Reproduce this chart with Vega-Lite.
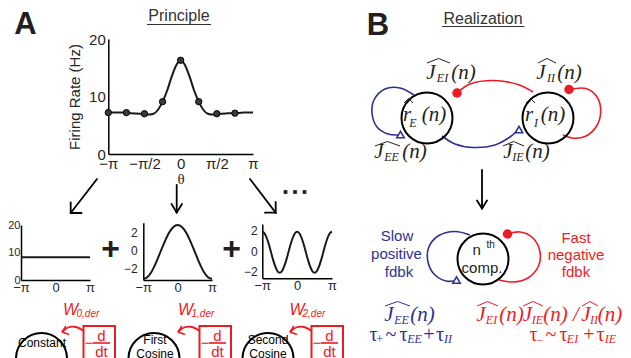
{
  "$schema": "https://vega.github.io/schema/vega-lite/v6.json",
  "width": 631,
  "height": 358,
  "autosize": {"type": "none"},
  "padding": 0,
  "background": "white",
  "config": {
    "view": {"stroke": null},
    "axis": {"grid": false, "ticks": false, "domainColor": "#000", "domainWidth": 1.5, "labelColor": "#262626", "labelFont": "Liberation Sans", "titleFont": "Liberation Sans", "titleFontWeight": "normal", "titleColor": "#262626", "labelFlush": false, "labelOverlap": false}
  },
  "datasets": {
    "curve": [
      {"theta": -3.1416, "rate": 7.2}, {"theta": -2.9452, "rate": 7.2}, {"theta": -2.7489, "rate": 7.2}, {"theta": -2.5525, "rate": 7.2},
      {"theta": -2.3562, "rate": 7.15}, {"theta": -2.1598, "rate": 7.1}, {"theta": -1.9635, "rate": 7.05}, {"theta": -1.7671, "rate": 7.0},
      {"theta": -1.5708, "rate": 6.95}, {"theta": -1.3744, "rate": 6.85}, {"theta": -1.1781, "rate": 7.0}, {"theta": -0.9817, "rate": 7.7},
      {"theta": -0.7854, "rate": 9.1}, {"theta": -0.589, "rate": 11.0}, {"theta": -0.3927, "rate": 13.4}, {"theta": -0.1963, "rate": 15.4},
      {"theta": 0, "rate": 16.3},
      {"theta": 0.1963, "rate": 15.4}, {"theta": 0.3927, "rate": 13.4}, {"theta": 0.589, "rate": 11.0}, {"theta": 0.7854, "rate": 9.1},
      {"theta": 0.9817, "rate": 7.7}, {"theta": 1.1781, "rate": 7.0}, {"theta": 1.3744, "rate": 6.85}, {"theta": 1.5708, "rate": 6.95},
      {"theta": 1.7671, "rate": 7.0}, {"theta": 1.9635, "rate": 7.05}, {"theta": 2.1598, "rate": 7.1}, {"theta": 2.3562, "rate": 7.12},
      {"theta": 2.5525, "rate": 7.15}, {"theta": 2.7489, "rate": 7.2}, {"theta": 2.9452, "rate": 7.2}, {"theta": 3.1416, "rate": 7.2}
    ],
    "samples": [
      {"theta": -3.1416, "rate": 7.2}, {"theta": -2.3562, "rate": 7.2}, {"theta": -1.5708, "rate": 7.0}, {"theta": -0.7854, "rate": 9.1},
      {"theta": 0, "rate": 16.3}, {"theta": 0.7854, "rate": 9.1}, {"theta": 1.5708, "rate": 7.0}, {"theta": 2.3562, "rate": 7.1}
    ],
    "constant": [{"theta": -3.1416, "v": 8.3}, {"theta": 3.1416, "v": 8.3}],
    "cos1": [
      {"theta": -3.1416, "v": -3.19}, {"theta": -2.7489, "v": -2.96}, {"theta": -2.3562, "v": -2.31}, {"theta": -1.9635, "v": -1.33},
      {"theta": -1.5708, "v": -0.17}, {"theta": -1.1781, "v": 0.99}, {"theta": -0.7854, "v": 1.97}, {"theta": -0.3927, "v": 2.62},
      {"theta": 0, "v": 2.85}, {"theta": 0.3927, "v": 2.62}, {"theta": 0.7854, "v": 1.97}, {"theta": 1.1781, "v": 0.99},
      {"theta": 1.5708, "v": -0.17}, {"theta": 1.9635, "v": -1.33}, {"theta": 2.3562, "v": -2.31}, {"theta": 2.7489, "v": -2.96},
      {"theta": 3.1416, "v": -3.19}
    ],
    "cos2": [
      {"theta": -3.1416, "v": 1.92}, {"theta": -2.9452, "v": 1.77}, {"theta": -2.7489, "v": 1.33}, {"theta": -2.5525, "v": 0.69},
      {"theta": -2.3562, "v": -0.08}, {"theta": -2.1598, "v": -0.85}, {"theta": -1.9635, "v": -1.49}, {"theta": -1.7671, "v": -1.93},
      {"theta": -1.5708, "v": -2.08}, {"theta": -1.3744, "v": -1.93}, {"theta": -1.1781, "v": -1.49}, {"theta": -0.9817, "v": -0.85},
      {"theta": -0.7854, "v": -0.08}, {"theta": -0.589, "v": 0.69}, {"theta": -0.3927, "v": 1.33}, {"theta": -0.1963, "v": 1.77},
      {"theta": 0, "v": 1.92},
      {"theta": 0.1963, "v": 1.77}, {"theta": 0.3927, "v": 1.33}, {"theta": 0.589, "v": 0.69}, {"theta": 0.7854, "v": -0.08},
      {"theta": 0.9817, "v": -0.85}, {"theta": 1.1781, "v": -1.49}, {"theta": 1.3744, "v": -1.93}, {"theta": 1.5708, "v": -2.08},
      {"theta": 1.7671, "v": -1.93}, {"theta": 1.9635, "v": -1.49}, {"theta": 2.1598, "v": -0.85}, {"theta": 2.3562, "v": -0.08},
      {"theta": 2.5525, "v": 0.69}, {"theta": 2.7489, "v": 1.33}, {"theta": 2.9452, "v": 1.77}, {"theta": 3.1416, "v": 1.92}
    ],
    "letters": [{"t": "A", "x": 25.5, "y": 25}, {"t": "B", "x": 378, "y": 25.5}],
    "titles": [{"t": "Principle", "x": 179, "y": 20.5}, {"t": "Realization", "x": 483, "y": 23.5}],
    "underlines": [{"x": 147, "y": 24.5, "x2": 211, "y2": 24.5}, {"x": 442, "y": 26.5, "x2": 524.5, "y2": 26.5}],
    "plus": [{"t": "+", "x": 110.5, "y": 249}, {"t": "+", "x": 231.7, "y": 249}],
    "ellipsis": [{"x": 285.5, "y": 192}, {"x": 295, "y": 192}, {"x": 304.5, "y": 192}],
    "arrows": [
      {"x": 97, "y": 179, "x2": 70.7, "y2": 213}, {"x": 70.7, "y": 213, "x2": 70.7, "y2": 202.5}, {"x": 70.7, "y": 213, "x2": 81.5, "y2": 213},
      {"x": 176.7, "y": 185, "x2": 176.7, "y2": 212.5}, {"x": 176.7, "y": 212.5, "x2": 171.5, "y2": 204}, {"x": 176.7, "y": 212.5, "x2": 182, "y2": 204},
      {"x": 250, "y": 179, "x2": 275.7, "y2": 212.7}, {"x": 275.7, "y": 212.7, "x2": 275.7, "y2": 202}, {"x": 275.7, "y": 212.7, "x2": 265, "y2": 212.7},
      {"x": 482, "y": 170, "x2": 482, "y2": 208.5}, {"x": 482, "y": 208.5, "x2": 477, "y2": 200.5}, {"x": 482, "y": 208.5, "x2": 487, "y2": 200.5}
    ],
    "circles": [
      {"x": 41.5, "y": 358.5}, {"x": 154, "y": 358.5}, {"x": 268, "y": 358.5},
      {"x": 427, "y": 118}, {"x": 548, "y": 118}, {"x": 483, "y": 259}
    ],
    "circleLabels": [
      {"t": "Constant", "x": 42, "y": 343}, {"t": "First", "x": 155, "y": 339.5}, {"t": "Cosine", "x": 155, "y": 353.5},
      {"t": "Second", "x": 268, "y": 340}, {"t": "Cosine", "x": 268, "y": 353.5}
    ],
    "loops": [
      {"id": "EE", "i": 0, "g": "exc", "x": 414, "y": 95}, {"id": "EE", "i": 1, "g": "exc", "x": 400, "y": 88}, {"id": "EE", "i": 2, "g": "exc", "x": 385, "y": 89},
      {"id": "EE", "i": 3, "g": "exc", "x": 374, "y": 100}, {"id": "EE", "i": 4, "g": "exc", "x": 372, "y": 113}, {"id": "EE", "i": 5, "g": "exc", "x": 377, "y": 127},
      {"id": "EE", "i": 6, "g": "exc", "x": 388, "y": 134}, {"id": "EE", "i": 7, "g": "exc", "x": 398, "y": 135},
      {"id": "IE", "i": 0, "g": "exc", "x": 442, "y": 136}, {"id": "IE", "i": 1, "g": "exc", "x": 455, "y": 144}, {"id": "IE", "i": 2, "g": "exc", "x": 473, "y": 147.5},
      {"id": "IE", "i": 3, "g": "exc", "x": 495, "y": 145}, {"id": "IE", "i": 4, "g": "exc", "x": 510, "y": 137}, {"id": "IE", "i": 5, "g": "exc", "x": 516.5, "y": 131.5},
      {"id": "EI", "i": 0, "g": "inh", "x": 533, "y": 92}, {"id": "EI", "i": 1, "g": "inh", "x": 518, "y": 84.5}, {"id": "EI", "i": 2, "g": "inh", "x": 493, "y": 80.5},
      {"id": "EI", "i": 3, "g": "inh", "x": 470, "y": 84}, {"id": "EI", "i": 4, "g": "inh", "x": 457, "y": 93},
      {"id": "II", "i": 0, "g": "inh", "x": 569, "y": 89.5}, {"id": "II", "i": 1, "g": "inh", "x": 586, "y": 88.5}, {"id": "II", "i": 2, "g": "inh", "x": 597, "y": 97},
      {"id": "II", "i": 3, "g": "inh", "x": 600.7, "y": 112}, {"id": "II", "i": 4, "g": "inh", "x": 596, "y": 127}, {"id": "II", "i": 5, "g": "inh", "x": 585, "y": 136.5},
      {"id": "II", "i": 6, "g": "inh", "x": 572, "y": 138}, {"id": "II", "i": 7, "g": "inh", "x": 563, "y": 135},
      {"id": "pos", "i": 0, "g": "exc", "x": 470, "y": 235}, {"id": "pos", "i": 1, "g": "exc", "x": 455, "y": 231.5}, {"id": "pos", "i": 2, "g": "exc", "x": 438, "y": 236},
      {"id": "pos", "i": 3, "g": "exc", "x": 428.5, "y": 248}, {"id": "pos", "i": 4, "g": "exc", "x": 428, "y": 262}, {"id": "pos", "i": 5, "g": "exc", "x": 434, "y": 274},
      {"id": "pos", "i": 6, "g": "exc", "x": 446, "y": 281}, {"id": "pos", "i": 7, "g": "exc", "x": 454, "y": 281},
      {"id": "neg", "i": 0, "g": "inh", "x": 507.5, "y": 234}, {"id": "neg", "i": 1, "g": "inh", "x": 520, "y": 232}, {"id": "neg", "i": 2, "g": "inh", "x": 533, "y": 238},
      {"id": "neg", "i": 3, "g": "inh", "x": 540, "y": 252}, {"id": "neg", "i": 4, "g": "inh", "x": 538.5, "y": 266}, {"id": "neg", "i": 5, "g": "inh", "x": 528, "y": 278},
      {"id": "neg", "i": 6, "g": "inh", "x": 513, "y": 282}, {"id": "neg", "i": 7, "g": "inh", "x": 499, "y": 280}
    ],
    "dotsRed": [{"x": 457, "y": 93}, {"x": 569, "y": 89.5}, {"x": 507.5, "y": 234}],
    "triangles": [{"x": 400.5, "y": 134.5}, {"x": 519, "y": 129.5}, {"x": 456.5, "y": 280}],
    "wcurves": [
      {"id": "w0", "i": 0, "x": 83.5, "y": 331}, {"id": "w0", "i": 1, "x": 76, "y": 327}, {"id": "w0", "i": 2, "x": 68, "y": 327.5}, {"id": "w0", "i": 3, "x": 62, "y": 332},
      {"id": "w1", "i": 0, "x": 199.5, "y": 331}, {"id": "w1", "i": 1, "x": 192, "y": 327}, {"id": "w1", "i": 2, "x": 184, "y": 327.5}, {"id": "w1", "i": 3, "x": 178, "y": 332},
      {"id": "w2", "i": 0, "x": 311.5, "y": 331}, {"id": "w2", "i": 1, "x": 304, "y": 327}, {"id": "w2", "i": 2, "x": 296, "y": 327.5}, {"id": "w2", "i": 3, "x": 290, "y": 332}
    ],
    "redSegs": [
      {"x": 62, "y": 332, "x2": 69, "y2": 334.5}, {"x": 62, "y": 332, "x2": 66, "y2": 326},
      {"x": 178, "y": 332, "x2": 185, "y2": 334.5}, {"x": 178, "y": 332, "x2": 182, "y2": 326},
      {"x": 290, "y": 332, "x2": 297, "y2": 334.5}, {"x": 290, "y": 332, "x2": 294, "y2": 326},
      {"x": 93, "y": 343, "x2": 110, "y2": 343}, {"x": 209, "y": 343, "x2": 226, "y2": 343}, {"x": 321, "y": 343, "x2": 338, "y2": 343}
    ],
    "boxes": [
      {"x": 83.5, "y": 326, "x2": 115, "y2": 372}, {"x": 199.5, "y": 326, "x2": 231, "y2": 372}, {"x": 311.5, "y": 326, "x2": 343, "y2": 372}
    ],
    "boxText": [
      {"t": "−", "x": 89, "y": 342.5}, {"t": "d", "x": 101.5, "y": 335.5}, {"t": "dt", "x": 101.5, "y": 352},
      {"t": "−", "x": 205, "y": 342.5}, {"t": "d", "x": 217.5, "y": 335.5}, {"t": "dt", "x": 217.5, "y": 352},
      {"t": "−", "x": 317, "y": 342.5}, {"t": "d", "x": 329.5, "y": 335.5}, {"t": "dt", "x": 329.5, "y": 352}
    ],
    "wMain": [{"t": "W", "x": 70.5, "y": 310}, {"t": "W", "x": 185.5, "y": 310}, {"t": "W", "x": 297, "y": 310}],
    "wSub": [{"t": "0,der", "x": 76.5, "y": 314}, {"t": "1,der", "x": 191.5, "y": 314}, {"t": "2,der", "x": 302.5, "y": 314}],
    "mathMain": [
      {"t": "J", "g": "k", "x": 431, "y": 73}, {"t": "(n)", "g": "k", "x": 463.5, "y": 73},
      {"t": "J", "g": "k", "x": 541, "y": 73}, {"t": "(n)", "g": "k", "x": 569.5, "y": 73},
      {"t": "J", "g": "k", "x": 379, "y": 152}, {"t": "(n)", "g": "k", "x": 414.5, "y": 152},
      {"t": "J", "g": "k", "x": 508, "y": 152}, {"t": "(n)", "g": "k", "x": 537.5, "y": 152},
      {"t": "r", "g": "k", "x": 407, "y": 115}, {"t": "(n)", "g": "k", "x": 434, "y": 115},
      {"t": "r", "g": "k", "x": 529, "y": 115}, {"t": "(n)", "g": "k", "x": 553, "y": 115},
      {"t": "J", "g": "exc", "x": 389, "y": 315}, {"t": "(n)", "g": "exc", "x": 422.5, "y": 315},
      {"t": "J", "g": "inh", "x": 481, "y": 315}, {"t": "(n)", "g": "inh", "x": 511.5, "y": 315},
      {"t": "J", "g": "inh", "x": 527.5, "y": 315}, {"t": "(n)", "g": "inh", "x": 555.5, "y": 315},
      {"t": "/", "g": "inh", "x": 576, "y": 315},
      {"t": "J", "g": "inh", "x": 586, "y": 315}, {"t": "(n)", "g": "inh", "x": 610, "y": 315}
    ],
    "mathSub": [
      {"t": "EI", "g": "k", "x": 442.5, "y": 78}, {"t": "II", "g": "k", "x": 551, "y": 78},
      {"t": "EE", "g": "k", "x": 391.5, "y": 157}, {"t": "IE", "g": "k", "x": 518, "y": 157},
      {"t": "E", "g": "k", "x": 413, "y": 123}, {"t": "I", "g": "k", "x": 536, "y": 123},
      {"t": "EE", "g": "exc", "x": 401.5, "y": 320},
      {"t": "EI", "g": "inh", "x": 491.5, "y": 320}, {"t": "IE", "g": "inh", "x": 537.5, "y": 320}, {"t": "II", "g": "inh", "x": 594, "y": 320},
      {"t": "+", "g": "exc", "x": 379.5, "y": 339}, {"t": "EE", "g": "exc", "x": 414.5, "y": 339}, {"t": "II", "g": "exc", "x": 448, "y": 339},
      {"t": "−", "g": "inh", "x": 539.5, "y": 340}, {"t": "EI", "g": "inh", "x": 572.5, "y": 339}, {"t": "IE", "g": "inh", "x": 610.5, "y": 339}
    ],
    "mathUpright": [
      {"t": "τ", "g": "exc", "x": 373.5, "y": 335}, {"t": "~", "g": "exc", "x": 391, "y": 335}, {"t": "τ", "g": "exc", "x": 403.5, "y": 335},
      {"t": "+", "g": "exc", "x": 429, "y": 335}, {"t": "τ", "g": "exc", "x": 440, "y": 335},
      {"t": "τ", "g": "inh", "x": 533.5, "y": 335}, {"t": "~", "g": "inh", "x": 551, "y": 335}, {"t": "τ", "g": "inh", "x": 563.5, "y": 335},
      {"t": "+", "g": "inh", "x": 589, "y": 335}, {"t": "τ", "g": "inh", "x": 600.5, "y": 335}
    ],
    "hats": [
      {"id": "h1", "i": 0, "g": "k", "x": 427, "y": 63}, {"id": "h1", "i": 1, "g": "k", "x": 438.5, "y": 58.5}, {"id": "h1", "i": 2, "g": "k", "x": 450, "y": 63},
      {"id": "h2", "i": 0, "g": "k", "x": 538, "y": 63}, {"id": "h2", "i": 1, "g": "k", "x": 547, "y": 58.5}, {"id": "h2", "i": 2, "g": "k", "x": 556, "y": 63},
      {"id": "h3", "i": 0, "g": "k", "x": 375, "y": 146}, {"id": "h3", "i": 1, "g": "k", "x": 387.5, "y": 141.5}, {"id": "h3", "i": 2, "g": "k", "x": 400, "y": 146},
      {"id": "h4", "i": 0, "g": "k", "x": 503, "y": 146}, {"id": "h4", "i": 1, "g": "k", "x": 513.5, "y": 141.5}, {"id": "h4", "i": 2, "g": "k", "x": 524, "y": 146},
      {"id": "h5", "i": 0, "g": "k", "x": 404, "y": 103}, {"id": "h5", "i": 1, "g": "k", "x": 408.5, "y": 98.5}, {"id": "h5", "i": 2, "g": "k", "x": 413, "y": 103},
      {"id": "h6", "i": 0, "g": "k", "x": 526, "y": 103}, {"id": "h6", "i": 1, "g": "k", "x": 530.5, "y": 98.5}, {"id": "h6", "i": 2, "g": "k", "x": 535, "y": 103},
      {"id": "h7", "i": 0, "g": "exc", "x": 385, "y": 306}, {"id": "h7", "i": 1, "g": "exc", "x": 397.5, "y": 301.5}, {"id": "h7", "i": 2, "g": "exc", "x": 410, "y": 306},
      {"id": "h8", "i": 0, "g": "inh", "x": 477, "y": 306}, {"id": "h8", "i": 1, "g": "inh", "x": 487.5, "y": 301.5}, {"id": "h8", "i": 2, "g": "inh", "x": 498, "y": 306},
      {"id": "h9", "i": 0, "g": "inh", "x": 523, "y": 306}, {"id": "h9", "i": 1, "g": "inh", "x": 533, "y": 301.5}, {"id": "h9", "i": 2, "g": "inh", "x": 543, "y": 306},
      {"id": "h10", "i": 0, "g": "inh", "x": 582, "y": 306}, {"id": "h10", "i": 1, "g": "inh", "x": 590, "y": 301.5}, {"id": "h10", "i": 2, "g": "inh", "x": 598, "y": 306}
    ],
    "sansLabels": [
      {"t": "Slow", "g": "exc", "x": 397, "y": 236}, {"t": "positive", "g": "exc", "x": 396.5, "y": 254}, {"t": "fdbk", "g": "exc", "x": 399, "y": 272},
      {"t": "Fast", "g": "inh", "x": 576, "y": 237.5}, {"t": "negative", "g": "inh", "x": 576, "y": 255}, {"t": "fdbk", "g": "inh", "x": 576, "y": 272},
      {"t": "n", "g": "k", "x": 476.7, "y": 250}, {"t": "comp.", "g": "k", "x": 482, "y": 267.5}
    ],
    "sup": [{"t": "th", "g": "k", "x": 486.5, "y": 245}]
  },
  "resolve": {"scale": {"x": "independent", "y": "independent"}},
  "layer": [
    {
      "encoding": {
        "x": {"field": "x", "type": "quantitative", "scale": {"domain": [0, 631], "range": [0, 631], "nice": false, "zero": false}, "axis": null},
        "y": {"field": "y", "type": "quantitative", "scale": {"domain": [0, 358], "range": [0, 358], "nice": false, "zero": false}, "axis": null}
      },
      "layer": [
        {"data": {"name": "letters"}, "mark": {"type": "text", "font": "Liberation Sans", "fontWeight": "bold", "fontSize": 31, "color": "#231f20", "align": "center", "baseline": "middle"}, "encoding": {"text": {"field": "t"}}},
        {"data": {"name": "titles"}, "mark": {"type": "text", "font": "Liberation Sans", "fontSize": 16, "color": "#333", "align": "center", "baseline": "alphabetic"}, "encoding": {"text": {"field": "t"}}},
        {"data": {"name": "underlines"}, "mark": {"type": "rule", "color": "#333", "strokeWidth": 1}, "encoding": {"x2": {"field": "x2"}, "y2": {"field": "y2"}}},
        {"data": {"name": "plus"}, "mark": {"type": "text", "font": "Liberation Sans", "fontWeight": "bold", "fontSize": 32, "color": "#231f20", "align": "center", "baseline": "middle"}, "encoding": {"text": {"field": "t"}}},
        {"data": {"name": "ellipsis"}, "mark": {"type": "point", "shape": "square", "filled": true, "color": "#231f20", "size": 14, "opacity": 1}, "encoding": {}},
        {"data": {"name": "arrows"}, "mark": {"type": "rule", "color": "#000", "strokeWidth": 1.8, "strokeCap": "round"}, "encoding": {"x2": {"field": "x2"}, "y2": {"field": "y2"}}},
        {"data": {"name": "loops"}, "mark": {"type": "line", "strokeWidth": 1.6, "interpolate": "catmull-rom"}, "encoding": {"detail": {"field": "id"}, "order": {"field": "i"}, "color": {"field": "g", "type": "nominal", "scale": {"domain": ["k", "exc", "inh"], "range": ["#231f20", "#2e3192", "#ec1c24"]}, "legend": null}}},
        {"data": {"name": "circles"}, "mark": {"type": "point", "shape": "circle", "filled": false, "color": "#000", "strokeWidth": 2, "size": 2600, "opacity": 1}, "encoding": {}},
        {"data": {"name": "dotsRed"}, "mark": {"type": "point", "shape": "circle", "filled": true, "color": "#ec1c24", "size": 90, "opacity": 1}, "encoding": {}},
        {"data": {"name": "triangles"}, "mark": {"type": "point", "shape": "triangle-up", "filled": false, "color": "#2e3192", "strokeWidth": 1.6, "size": 55, "opacity": 1}, "encoding": {}},
        {"data": {"name": "circleLabels"}, "mark": {"type": "text", "font": "Liberation Sans", "fontSize": 12, "color": "#000", "align": "center", "baseline": "middle"}, "encoding": {"text": {"field": "t"}}},
        {"data": {"name": "wcurves"}, "mark": {"type": "line", "color": "#ec1c24", "strokeWidth": 1.8, "interpolate": "catmull-rom"}, "encoding": {"detail": {"field": "id"}, "order": {"field": "i"}}},
        {"data": {"name": "redSegs"}, "mark": {"type": "rule", "color": "#ec1c24", "strokeWidth": 1.6}, "encoding": {"x2": {"field": "x2"}, "y2": {"field": "y2"}}},
        {"data": {"name": "boxes"}, "mark": {"type": "rect", "filled": false, "color": "#ec1c24", "strokeWidth": 2}, "encoding": {"x2": {"field": "x2"}, "y2": {"field": "y2"}}},
        {"data": {"name": "boxText"}, "mark": {"type": "text", "font": "Liberation Sans", "fontSize": 15, "color": "#ec1c24", "align": "center", "baseline": "middle"}, "encoding": {"text": {"field": "t"}}},
        {"data": {"name": "wMain"}, "mark": {"type": "text", "font": "Liberation Sans", "fontStyle": "italic", "fontSize": 16, "color": "#ec1c24", "align": "center", "baseline": "middle"}, "encoding": {"text": {"field": "t"}}},
        {"data": {"name": "wSub"}, "mark": {"type": "text", "font": "Liberation Sans", "fontStyle": "italic", "fontSize": 10, "color": "#ec1c24", "align": "left", "baseline": "middle"}, "encoding": {"text": {"field": "t"}}},
        {"data": {"name": "mathMain"}, "mark": {"type": "text", "font": "Liberation Serif", "fontStyle": "italic", "fontSize": 21, "align": "center", "baseline": "middle"}, "encoding": {"text": {"field": "t"}, "color": {"field": "g", "type": "nominal", "scale": {"domain": ["k", "exc", "inh"], "range": ["#231f20", "#2e3192", "#ec1c24"]}, "legend": null}}},
        {"data": {"name": "mathSub"}, "mark": {"type": "text", "font": "Liberation Serif", "fontStyle": "italic", "fontSize": 12, "align": "center", "baseline": "middle"}, "encoding": {"text": {"field": "t"}, "color": {"field": "g", "type": "nominal", "scale": {"domain": ["k", "exc", "inh"], "range": ["#231f20", "#2e3192", "#ec1c24"]}, "legend": null}}},
        {"data": {"name": "mathUpright"}, "mark": {"type": "text", "font": "Liberation Serif", "fontSize": 20, "align": "center", "baseline": "middle"}, "encoding": {"text": {"field": "t"}, "color": {"field": "g", "type": "nominal", "scale": {"domain": ["k", "exc", "inh"], "range": ["#231f20", "#2e3192", "#ec1c24"]}, "legend": null}}},
        {"data": {"name": "hats"}, "mark": {"type": "line", "strokeWidth": 1}, "encoding": {"detail": {"field": "id"}, "order": {"field": "i"}, "color": {"field": "g", "type": "nominal", "scale": {"domain": ["k", "exc", "inh"], "range": ["#231f20", "#2e3192", "#ec1c24"]}, "legend": null}}},
        {"data": {"name": "sansLabels"}, "mark": {"type": "text", "font": "Liberation Sans", "fontSize": 15, "align": "center", "baseline": "middle"}, "encoding": {"text": {"field": "t"}, "color": {"field": "g", "type": "nominal", "scale": {"domain": ["k", "exc", "inh"], "range": ["#231f20", "#2e3192", "#ec1c24"]}, "legend": null}}},
        {"data": {"name": "sup"}, "mark": {"type": "text", "font": "Liberation Sans", "fontSize": 10, "align": "left", "baseline": "middle"}, "encoding": {"text": {"field": "t"}, "color": {"field": "g", "type": "nominal", "scale": {"domain": ["k", "exc", "inh"], "range": ["#231f20", "#2e3192", "#ec1c24"]}, "legend": null}}}
      ]
    },
    {
      "encoding": {
        "x": {"field": "theta", "type": "quantitative", "scale": {"domain": [-3.1416, 3.1416], "range": [108.3, 253], "nice": false, "zero": false},
          "axis": {"orient": "bottom", "offset": -204, "values": [-3.1416, -1.5708, 0, 1.5708, 3.1416], "labelExpr": "datum.value < -3 ? '−π' : datum.value < -1 ? '−π/2' : datum.value > 3 ? 'π' : datum.value > 1 ? 'π/2' : '0'", "labelFontSize": 15, "labelPadding": 2, "title": "θ", "titleFont": "Liberation Serif", "titleFontSize": 15, "titlePadding": 0}},
        "y": {"field": "rate", "type": "quantitative", "scale": {"domain": [0, 20], "range": [154, 39], "nice": false, "zero": false},
          "axis": {"orient": "left", "offset": -108.3, "values": [0, 10, 20], "labelFontSize": 15, "labelPadding": 3, "title": "Firing Rate (Hz)", "titleFontSize": 15, "titlePadding": 6}}
      },
      "layer": [
        {"data": {"name": "curve"}, "mark": {"type": "line", "color": "#1a1a1a", "strokeWidth": 2, "interpolate": "monotone"}},
        {"data": {"name": "samples"}, "mark": {"type": "point", "shape": "circle", "filled": true, "color": "#3a3a3a", "stroke": "#000", "strokeWidth": 1, "size": 40, "opacity": 1}}
      ]
    },
    {
      "data": {"name": "constant"},
      "mark": {"type": "line", "color": "#1a1a1a", "strokeWidth": 2},
      "encoding": {
        "x": {"field": "theta", "type": "quantitative", "scale": {"domain": [-3.1416, 3.1416], "range": [21, 90], "nice": false, "zero": false},
          "axis": {"orient": "bottom", "offset": -78, "values": [-3.1416, 0, 3.1416], "labelExpr": "datum.value < -3 ? '−π' : datum.value > 3 ? 'π' : '0'", "labelFontSize": 13, "labelPadding": 1, "title": null}},
        "y": {"field": "v", "type": "quantitative", "scale": {"domain": [0, 20], "range": [280, 225], "nice": false, "zero": false},
          "axis": {"orient": "left", "offset": -21, "values": [0, 10, 20], "labelFontSize": 11, "labelPadding": 1, "title": null}}
      }
    },
    {
      "data": {"name": "cos1"},
      "mark": {"type": "line", "color": "#1a1a1a", "strokeWidth": 2, "interpolate": "monotone"},
      "encoding": {
        "x": {"field": "theta", "type": "quantitative", "scale": {"domain": [-3.1416, 3.1416], "range": [143.3, 212], "nice": false, "zero": false},
          "axis": {"orient": "bottom", "offset": -78, "values": [-3.1416, 0, 3.1416], "labelExpr": "datum.value < -3 ? '−π' : datum.value > 3 ? 'π' : '0'", "labelFontSize": 13, "labelPadding": 1, "title": null}},
        "y": {"field": "v", "type": "quantitative", "scale": {"domain": [-3.3, 3.1], "range": [280, 222.7], "nice": false, "zero": false},
          "axis": {"orient": "left", "offset": -143.3, "values": [-2, 0, 2], "labelFontSize": 12, "labelPadding": 6, "title": null}}
      }
    },
    {
      "data": {"name": "cos2"},
      "mark": {"type": "line", "color": "#1a1a1a", "strokeWidth": 2, "interpolate": "monotone"},
      "encoding": {
        "x": {"field": "theta", "type": "quantitative", "scale": {"domain": [-3.1416, 3.1416], "range": [262.3, 332], "nice": false, "zero": false},
          "axis": {"orient": "bottom", "offset": -79.7, "values": [-3.1416, 0, 3.1416], "labelExpr": "datum.value < -3 ? '−π' : datum.value > 3 ? 'π' : '0'", "labelFontSize": 13, "labelPadding": 1, "title": null}},
        "y": {"field": "v", "type": "quantitative", "scale": {"domain": [-2.62, 2.67], "range": [278.3, 224], "nice": false, "zero": false},
          "axis": {"orient": "left", "offset": -262.3, "values": [-2, 0, 2], "labelFontSize": 12, "labelPadding": 5, "title": null}}
      }
    }
  ]
}
